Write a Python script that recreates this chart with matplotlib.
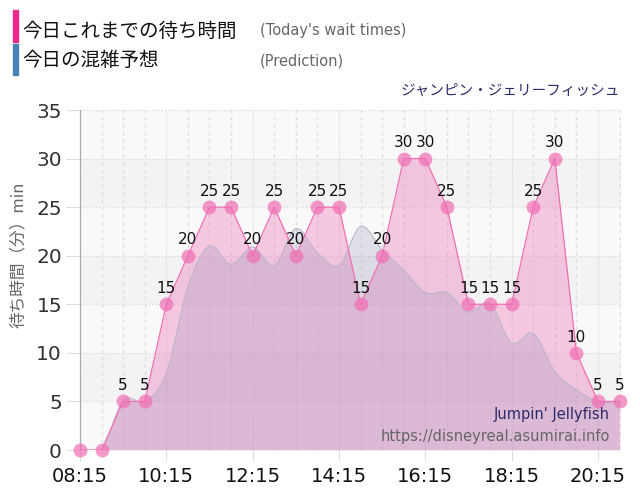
import numpy as np
import matplotlib
matplotlib.use("Agg")
import matplotlib.pyplot as plt
from matplotlib.path import Path
from matplotlib.patches import PathPatch, Rectangle

plt.rcParams['font.family'] = ['DejaVu Sans', 'Noto Sans CJK JP']

# ---- data ----
times = ["08:15", "08:45", "09:15", "09:45", "10:15", "10:45", "11:15", "11:45",
         "12:15", "12:45", "13:15", "13:45", "14:15", "14:45", "15:15", "15:45",
         "16:15", "16:45", "17:15", "17:45", "18:15", "18:45", "19:15", "19:45",
         "20:15", "20:45"]
actual = [0, 0, 5, 5, 15, 20, 25, 25, 20, 25, 20, 25, 25, 15, 20, 30,
          30, 25, 15, 15, 15, 25, 30, 10, 5, 5]
prediction = [0, 0, 5.1, 5.0, 7.9, 16.8, 21.0, 19.1, 20.9, 19.0, 22.8, 20.3,
              19.0, 23.0, 20.6, 18.5, 16.2, 16.2, 14.2, 15.1, 11.0, 12.0,
              8.1, 6.2, 5.0, 5.0]
tick_labels = ["08:15", "10:15", "12:15", "14:15", "16:15", "18:15", "20:15"]
y_ticks = [0, 5, 10, 15, 20, 25, 30, 35]

title_main = "今日これまでの待ち時間"
title_main_en = "(Today's wait times)"
title_pred = "今日の混雑予想"
title_pred_en = "(Prediction)"
attraction = "ジャンピン・ジェリーフィッシュ"
attraction_en = "Jumpin' Jellyfish"
site = "https://disneyreal.asumirai.info"
ylabel = "待ち時間（分）min"


def to_min(t):
    h, m = t.split(":")
    return int(h) * 60 + int(m) - (8 * 60 + 15)


x = np.array([to_min(t) for t in times], dtype=float)
ya = np.array(actual, dtype=float)
yp = np.array(prediction, dtype=float)

PINK = "#f06eb4"
PRED = (0.58, 0.58, 0.72)

fig = plt.figure(figsize=(6.4, 5.0), dpi=100)
ax = fig.add_axes([80 / 640, 1 - 450 / 500, 541 / 640, 340 / 500])
ax.set_xlim(0, x[-1] + 2)
ax.set_ylim(0, 35)
ax.set_facecolor("#f9f9f9")

# horizontal bands
for lo in (5, 15, 25):
    ax.axhspan(lo, lo + 5, color="#f3f3f3", zorder=0, lw=0)

# grid
for yv in y_ticks[1:]:
    ax.axhline(yv, color="#d9d9d9", lw=0.9, ls=(0, (1, 1.5)), zorder=1)
major = [to_min(t) for t in tick_labels]
for xv in x:
    if xv in major:
        ax.axvline(xv, color="#dcdcdc", lw=1.0, ls=(0, (1, 1)), zorder=1)
    else:
        ax.axvline(xv, color="#dddddd", lw=0.9, ls=(0, (3, 3)), zorder=1)

# actual fill
ax.fill_between(x, ya, 0, color=PINK, alpha=0.35, lw=0, zorder=2)

# prediction: smooth curve via cubic Bezier (Catmull-Rom)
pts = np.column_stack([x, yp])
verts = [tuple(pts[0])]
codes = [Path.MOVETO]
n = len(pts)
for i in range(n - 1):
    p0 = pts[max(i - 1, 0)]
    p1 = pts[i]
    p2 = pts[i + 1]
    p3 = pts[min(i + 2, n - 1)]
    c1 = p1 + (p2 - p0) / 6.0
    c2 = p2 - (p3 - p1) / 6.0
    verts += [tuple(c1), tuple(c2), tuple(p2)]
    codes += [Path.CURVE4] * 3
line_path = Path(verts, codes)
fill_verts = verts + [(x[-1], 0), (x[0], 0), (x[0], yp[0])]
fill_codes = codes + [Path.LINETO, Path.LINETO, Path.CLOSEPOLY]
ax.add_patch(PathPatch(Path(fill_verts, fill_codes), facecolor=PRED, alpha=0.25,
                       lw=0, zorder=3))
ax.add_patch(PathPatch(line_path, facecolor="none", edgecolor="#bdb6cc",
                       lw=0.8, zorder=3.5))

# actual line & markers
ax.plot(x, ya, color=PINK, lw=0.9, zorder=4)
ax.plot(x, ya, ls="none", marker="o", ms=10, mfc=PINK, mec="none",
        alpha=0.7, zorder=5, clip_on=False)
for xi, yi in zip(x, ya):
    if yi > 0:
        ax.annotate(f"{int(yi)}", (xi, yi), xytext=(0, 6), textcoords="offset points",
                    ha="center", va="bottom", fontsize=11, color="#111111", zorder=6)

# axes styling
for s in ("top", "right", "bottom"):
    ax.spines[s].set_visible(False)
ax.spines["left"].set_color("#aaaaaa")
ax.spines["left"].set_linewidth(0.9)
ax.set_yticks(y_ticks)
ax.set_yticklabels([str(v) for v in y_ticks], fontsize=14.5, color="#333333")
ax.set_xticks(major)
ax.set_xticklabels(tick_labels, fontsize=14, color="#111111")
ax.tick_params(axis="y", length=10, color="#dddddd", pad=3)
ax.tick_params(axis="x", length=8, color="#dddddd", pad=4)

fig.text(18 / 640, 0.49, ylabel, rotation=90, ha="center", va="center",
         fontsize=12, color="#666666",
         family=["Noto Sans CJK JP", "DejaVu Sans"])

# header legend
fig.patches.append(Rectangle((13 / 640, 1 - 42 / 500), 5 / 640, 32 / 500,
                             transform=fig.transFigure, color="#f0288c"))
fig.patches.append(Rectangle((13 / 640, 1 - 75 / 500), 5 / 640, 31 / 500,
                             transform=fig.transFigure, color="#4682b4"))
fig.text(22 / 640, 1 - 31 / 500, title_main, ha="left", va="center", fontsize=14,
         color="#111111", family=["Noto Sans CJK JP", "DejaVu Sans"])
fig.text(260 / 640, 1 - 31 / 500, title_main_en, ha="left", va="center", fontsize=10.5,
         color="#666666")
fig.text(22 / 640, 1 - 61 / 500, title_pred, ha="left", va="center", fontsize=14,
         color="#111111", family=["Noto Sans CJK JP", "DejaVu Sans"])
fig.text(260 / 640, 1 - 61 / 500, title_pred_en, ha="left", va="center", fontsize=10.5,
         color="#666666")
fig.text(620 / 640, 1 - 91 / 500, attraction, ha="right", va="center", fontsize=10.5,
         color="#2b2b6b", family=["Noto Sans CJK JP", "DejaVu Sans"])

# watermark
fig.text(610 / 640, 1 - 414 / 500, attraction_en, ha="right", va="center",
         fontsize=10.5, color="#2b2b6b")
fig.text(610 / 640, 1 - 436 / 500, site, ha="right", va="center",
         fontsize=10.5, color="#666666")

fig.savefig("out.png", dpi=100, facecolor="white")
